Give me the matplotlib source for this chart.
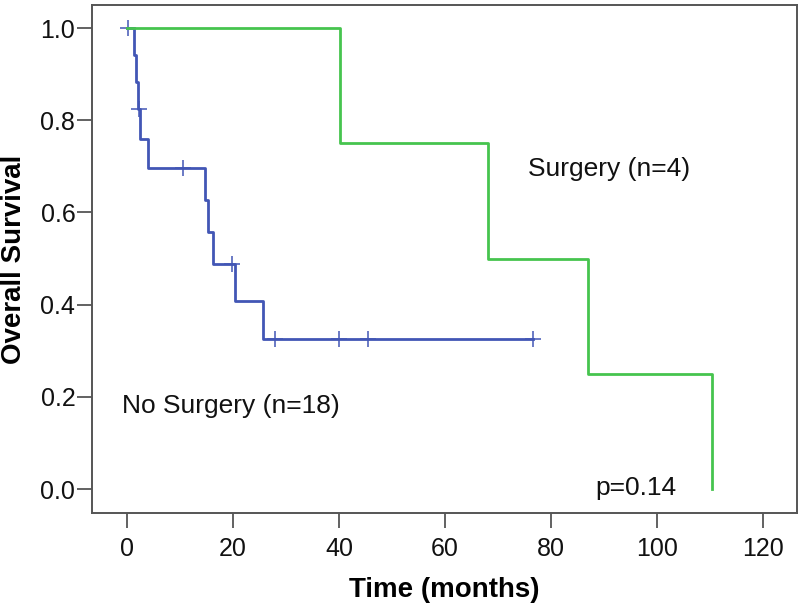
import numpy as np
import matplotlib
matplotlib.use("Agg")
import matplotlib.pyplot as plt

plt.rcParams['font.family'] = ['Liberation Sans', 'DejaVu Sans']

# Kaplan-Meier steps
# No surgery (n=18): step times and survival after each step
nosurg_times = [0.0, 1.3, 1.7, 2.0, 2.4, 4.0, 14.7, 15.2, 16.3, 20.4, 25.7, 76.6]
nosurg_surv = [1.0, 0.941, 0.882, 0.824, 0.760, 0.697, 0.627, 0.558, 0.488, 0.407, 0.325, 0.325]
nosurg_cens_t = [0.2, 2.2, 10.6, 19.8, 27.9, 40.0, 45.5, 76.6]
nosurg_cens_s = [1.0, 0.824, 0.697, 0.488, 0.325, 0.325, 0.325, 0.325]

# Surgery (n=4)
surg_times = [0.0, 40.2, 68.1, 87.0, 110.4]
surg_surv = [1.0, 0.75, 0.50, 0.25, 0.0]

blue = '#4256b5'
green = '#46c44e'
frame = '#555555'

fig = plt.figure(figsize=(8.0, 6.07), dpi=100)
ax = fig.add_axes([92 / 800, 1 - 513 / 607, 705 / 800, 508 / 607])

ax.step(nosurg_times, nosurg_surv, where='post', color=blue, lw=2.0)
ax.plot(nosurg_cens_t, nosurg_cens_s, ls='none', marker='+', ms=12, mew=1.1, color=blue)
ax.step(surg_times, surg_surv, where='post', color=green, lw=2.0)

ax.text(75.7, 0.694, 'Surgery (n=4)', fontsize=19, va='center', ha='left', color='#111111')
ax.text(-0.9, 0.18, 'No Surgery (n=18)', fontsize=19, va='center', ha='left', color='#111111')
ax.text(88.3, 0.003, 'p=0.14', fontsize=19, va='center', ha='left', color='#111111')

ax.set_xlim(-6.6, 126.4)
ax.set_ylim(-0.052, 1.05)
ax.set_xticks(np.arange(0, 121, 20))
ax.set_yticks(np.arange(0, 1.01, 0.2))
ax.set_yticklabels([f'{v:.1f}' for v in np.arange(0, 1.01, 0.2)])

for s in ax.spines.values():
    s.set_color(frame)
    s.set_linewidth(1.4)
ax.tick_params(axis='both', direction='out', length=11, width=1.3, color=frame,
               labelsize=18, labelcolor='#111111')
ax.tick_params(axis='x', pad=6)
ax.tick_params(axis='y', pad=1)

ax.set_xlabel('Time (months)', fontsize=20, fontweight='bold', labelpad=12)
ax.set_ylabel('Overall Survival', fontsize=20, fontweight='bold', labelpad=10)

fig.savefig('out.png', dpi=100)
